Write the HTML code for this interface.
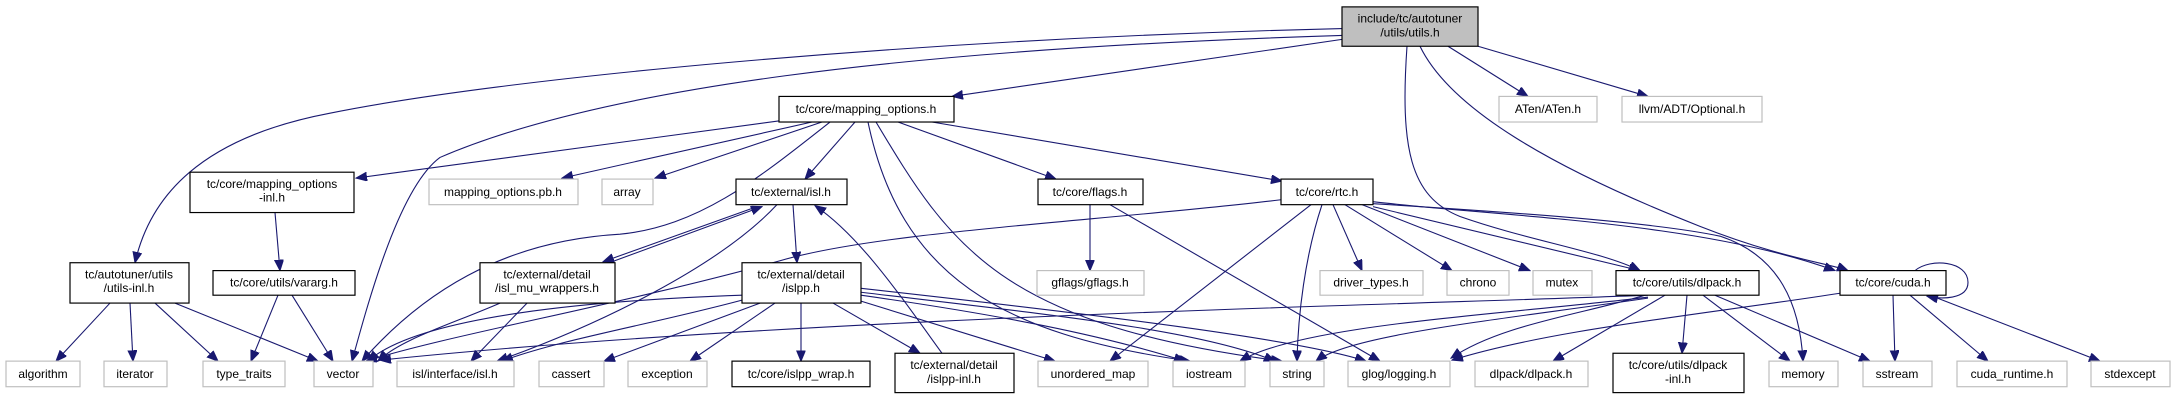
<!DOCTYPE html>
<html><head><meta charset="utf-8"><style>
html,body{margin:0;padding:0;background:#fff;}
svg{display:block;}
text{font-family:"Liberation Sans",Arial,sans-serif;font-size:12px;fill:#000;text-anchor:middle;}
.e{fill:none;stroke:#191970;stroke-width:1.1;marker-end:url(#a);}
.b{fill:#fff;stroke:#000;stroke-width:1.2;}
.g{fill:#fff;stroke:#bfbfbf;stroke-width:1.2;}
</style></head><body>
<svg width="2175" height="400" viewBox="0 0 2175 400" xmlns="http://www.w3.org/2000/svg">
<defs><marker id="a" markerUnits="userSpaceOnUse" markerWidth="12" markerHeight="10" refX="11" refY="4.5" orient="auto"><path d="M0,0 L11,4.5 L0,9 z" fill="#191970" stroke="#191970"/></marker></defs>
<g transform="scale(1,0.984)">
<!-- edges from top node -->
<path class="e" d="M1342,29 C900,40 500,80 330,115 C200,140 150,200 135,267"/>
<path class="e" d="M1342,36 C900,50 600,90 440,160 C400,190 370,300 352,367"/>
<path class="e" d="M1342,40 L952,98"/>
<path class="e" d="M1448,47 L1528,98"/>
<path class="e" d="M1478,47 L1648,98"/>
<path class="e" d="M1420,47 C1450,110 1550,170 1700,230 C1780,262 1830,268 1848,275"/>
<path class="e" d="M1407,47 C1400,150 1410,200 1460,220 C1530,245 1600,255 1640,275"/>

<!-- mapping_options.h -->
<path class="e" d="M800,120 L356,181"/>
<path class="e" d="M812,124 L562,181"/>
<path class="e" d="M822,124 L655,181"/>
<path class="e" d="M830,124 C760,180 700,230 620,238 C500,245 420,300 362,367"/>
<path class="e" d="M855,124 L805,182"/>
<path class="e" d="M868,124 C900,280 1000,340 1190,367"/>
<path class="e" d="M876,124 C950,250 1000,330 1282,367"/>
<path class="e" d="M898,124 L1056,182"/>
<path class="e" d="M932,124 L1282,184"/>

<!-- mapping_options-inl, utils-inl, vararg -->
<path class="e" d="M275,216 L280,275"/>
<path class="e" d="M110,308 L56,367"/>
<path class="e" d="M130,308 L133,367"/>
<path class="e" d="M155,308 L218,367"/>
<path class="e" d="M175,308 L318,367"/>
<path class="e" d="M278,300 L251,367"/>
<path class="e" d="M292,300 L333,367"/>

<!-- isl.h group -->
<path class="e" d="M793,208 L797,267"/>
<path class="e" d="M757,210 L603,266"/>
<path class="e" d="M612,266 L762,210"/>
<path class="e" d="M777,208 C720,270 600,330 497,367"/>
<path class="e" d="M942,359 C900,300 860,240 815,209"/>
<path class="e" d="M1281,203 C1100,225 880,235 780,265 C620,310 450,340 366,367"/>

<!-- islpp.h -->
<path class="e" d="M742,300 C600,305 420,320 368,367"/>
<path class="e" d="M742,305 C650,330 560,345 502,367"/>
<path class="e" d="M760,308 L604,367"/>
<path class="e" d="M775,308 L690,367"/>
<path class="e" d="M801,308 L801,367"/>
<path class="e" d="M833,308 L920,359"/>
<path class="e" d="M861,306 L1055,367"/>
<path class="e" d="M861,300 C1000,320 1100,340 1185,367"/>
<path class="e" d="M861,297 C1050,320 1200,335 1275,367"/>
<path class="e" d="M861,293 C1100,320 1300,345 1366,367"/>
<path class="e" d="M500,308 C450,330 400,345 378,367"/>
<path class="e" d="M527,308 L471,367"/>

<!-- flags.h -->
<path class="e" d="M1090,208 L1090,275"/>
<path class="e" d="M1110,208 L1380,367"/>

<!-- rtc.h -->
<path class="e" d="M1311,208 L1110,367"/>
<path class="e" d="M1322,208 C1305,260 1298,320 1297,367"/>
<path class="e" d="M1333,208 L1362,275"/>
<path class="e" d="M1345,208 L1452,275"/>
<path class="e" d="M1362,208 L1530,275"/>
<path class="e" d="M1373,210 L1640,275"/>
<path class="e" d="M1373,205 C1500,220 1700,225 1835,275"/>
<path class="e" d="M1373,207 C1500,215 1650,225 1720,240 C1780,260 1800,310 1803,367"/>

<!-- dlpack.h -->
<path class="e" d="M1648,300 C1400,310 800,322 380,366"/>
<path class="e" d="M1645,300 C1580,320 1500,330 1451,364"/>
<path class="e" d="M1648,302 C1500,320 1300,330 1240,367"/>
<path class="e" d="M1648,303 C1500,325 1350,340 1316,367"/>
<path class="e" d="M1665,300 L1553,367"/>
<path class="e" d="M1687,300 L1682,359"/>
<path class="e" d="M1703,300 L1790,367"/>
<path class="e" d="M1715,300 L1870,367"/>

<!-- cuda.h -->
<path class="e" d="M1840,298 C1700,320 1550,335 1452,366"/>
<path class="e" d="M1893,300 L1895,367"/>
<path class="e" d="M1910,300 L1988,367"/>
<path class="e" d="M1930,300 L2100,367"/>
<path class="e" d="M1915,275 C1930,262 1968,265 1968,287 C1968,305 1940,304 1927,301"/>

<!-- nodes -->
<rect x="1342" y="7" width="136" height="40" fill="#bfbfbf" stroke="#000" stroke-width="1.2"/>
<text x="1410" y="23">include/tc/autotuner</text><text x="1410" y="37">/utils/utils.h</text>

<rect class="b" x="779" y="98" width="175" height="26"/><text x="866" y="115">tc/core/mapping_options.h</text>
<rect class="g" x="1499" y="98" width="98" height="26"/><text x="1548" y="115">ATen/ATen.h</text>
<rect class="g" x="1622" y="98" width="140" height="26"/><text x="1692" y="115">llvm/ADT/Optional.h</text>

<rect class="b" x="190" y="175" width="164" height="41"/><text x="272" y="191">tc/core/mapping_options</text><text x="272" y="205">-inl.h</text>
<rect class="g" x="429" y="182" width="149" height="26"/><text x="503" y="199">mapping_options.pb.h</text>
<rect class="g" x="602" y="182" width="51" height="26"/><text x="627" y="199">array</text>
<rect class="b" x="736" y="182" width="111" height="26"/><text x="791" y="199">tc/external/isl.h</text>
<rect class="b" x="1038" y="182" width="105" height="26"/><text x="1090" y="199">tc/core/flags.h</text>
<rect class="b" x="1281" y="182" width="92" height="26"/><text x="1327" y="199">tc/core/rtc.h</text>

<rect class="b" x="70" y="267" width="119" height="41"/><text x="129" y="283">tc/autotuner/utils</text><text x="129" y="297">/utils-inl.h</text>
<rect class="b" x="213" y="275" width="142" height="25"/><text x="284" y="291">tc/core/utils/vararg.h</text>
<rect class="b" x="480" y="267" width="135" height="41"/><text x="547" y="283">tc/external/detail</text><text x="547" y="297">/isl_mu_wrappers.h</text>
<rect class="b" x="742" y="267" width="119" height="41"/><text x="801" y="283">tc/external/detail</text><text x="801" y="297">/islpp.h</text>
<rect class="g" x="1037" y="275" width="107" height="25"/><text x="1090" y="291">gflags/gflags.h</text>
<rect class="g" x="1320" y="275" width="103" height="25"/><text x="1371" y="291">driver_types.h</text>
<rect class="g" x="1447" y="275" width="62" height="25"/><text x="1478" y="291">chrono</text>
<rect class="g" x="1533" y="275" width="59" height="25"/><text x="1562" y="291">mutex</text>
<rect class="b" x="1616" y="275" width="143" height="25"/><text x="1687" y="291">tc/core/utils/dlpack.h</text>
<rect class="b" x="1840" y="275" width="106" height="25"/><text x="1893" y="291">tc/core/cuda.h</text>

<rect class="g" x="6" y="367" width="74" height="26"/><text x="43" y="384">algorithm</text>
<rect class="g" x="104" y="367" width="63" height="26"/><text x="135" y="384">iterator</text>
<rect class="g" x="203" y="367" width="82" height="26"/><text x="244" y="384">type_traits</text>
<rect class="g" x="314" y="367" width="59" height="26"/><text x="343" y="384">vector</text>
<rect class="g" x="397" y="367" width="117" height="26"/><text x="455" y="384">isl/interface/isl.h</text>
<rect class="g" x="539" y="367" width="65" height="26"/><text x="571" y="384">cassert</text>
<rect class="g" x="628" y="367" width="79" height="26"/><text x="667" y="384">exception</text>
<rect class="b" x="732" y="367" width="138" height="26"/><text x="801" y="384">tc/core/islpp_wrap.h</text>
<rect class="b" x="895" y="359" width="119" height="40"/><text x="954" y="375">tc/external/detail</text><text x="954" y="389">/islpp-inl.h</text>
<rect class="g" x="1038" y="367" width="110" height="26"/><text x="1093" y="384">unordered_map</text>
<rect class="g" x="1173" y="367" width="72" height="26"/><text x="1209" y="384">iostream</text>
<rect class="g" x="1270" y="367" width="54" height="26"/><text x="1297" y="384">string</text>
<rect class="g" x="1348" y="367" width="102" height="26"/><text x="1399" y="384">glog/logging.h</text>
<rect class="g" x="1475" y="367" width="113" height="26"/><text x="1531" y="384">dlpack/dlpack.h</text>
<rect class="b" x="1613" y="359" width="131" height="40"/><text x="1678" y="375">tc/core/utils/dlpack</text><text x="1678" y="389">-inl.h</text>
<rect class="g" x="1769" y="367" width="69" height="26"/><text x="1803" y="384">memory</text>
<rect class="g" x="1863" y="367" width="69" height="26"/><text x="1897" y="384">sstream</text>
<rect class="g" x="1957" y="367" width="110" height="26"/><text x="2012" y="384">cuda_runtime.h</text>
<rect class="g" x="2091" y="367" width="79" height="26"/><text x="2130" y="384">stdexcept</text>
</g>
</svg>
</body></html>
